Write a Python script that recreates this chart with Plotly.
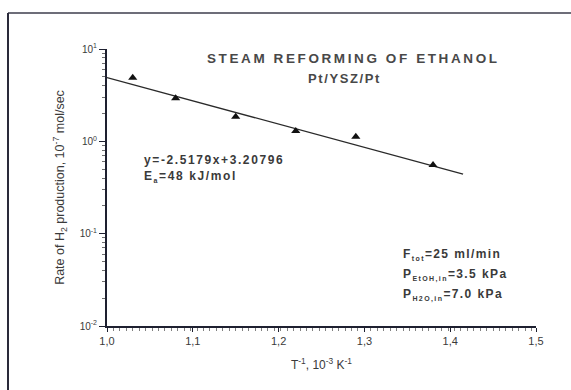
import plotly.graph_objects as go

# Measured H2 production rates vs inverse temperature
inv_T = [1.03, 1.08, 1.15, 1.22, 1.29, 1.38]          # 10^-3 K^-1
rate_h2 = [4.89, 2.92, 1.85, 1.29, 1.12, 0.553]        # 10^-7 mol/s

# Linear fit of log10(rate) against 1/T
fit_slope = -2.5179
fit_intercept = 3.20796
fit_x = [1.0, 1.415]
fit_y = [10 ** (fit_slope * x + fit_intercept) for x in fit_x]

y_tickvals = [0.01, 0.1, 1, 10]
y_ticktext = ["10<sup>-2</sup>", "10<sup>-1</sup>", "10<sup>0</sup>", "10<sup>1</sup>"]
y_minorvals = [m * 10.0 ** e for e in (-2, -1, 0) for m in range(2, 10)]

FONT = "Arial, Liberation Sans, sans-serif"
TXT = "#3a3a3a"
AXC = "#1e2030"

fig = go.Figure()
fig.add_trace(go.Scatter(
    x=fit_x, y=fit_y, mode="lines",
    line=dict(color="#2a2a2a", width=1.3), hoverinfo="skip", showlegend=False))
fig.add_trace(go.Scatter(
    x=inv_T, y=rate_h2, mode="markers",
    marker=dict(symbol="triangle-up", size=8, color="#111111"),
    showlegend=False))

fig.update_xaxes(
    range=[1.0, 1.5], showline=True, linecolor=AXC, linewidth=2,
    showgrid=False, zeroline=False,
    tickmode="linear", tick0=1.0, dtick=0.1, tickformat=".1f",
    ticks="outside", ticklen=4, tickcolor=AXC, tickwidth=1,
    minor=dict(ticks="outside", ticklen=3, tickcolor="#808080", tickwidth=1,
               tickmode="linear", tick0=1.0, dtick=0.0075),
    tickfont=dict(family=FONT, size=11, color=TXT),
    title=dict(text="T<sup>-1</sup>, 10<sup>-3</sup> K<sup>-1</sup>",
               font=dict(family=FONT, size=12, color=TXT), standoff=14),
)
fig.update_yaxes(
    type="log", range=[-2, 1], showline=True, linecolor=AXC, linewidth=2,
    showgrid=False, zeroline=False,
    tickvals=y_tickvals, ticktext=y_ticktext,
    ticks="outside", ticklen=6, tickcolor=AXC, tickwidth=1,
    minor=dict(ticks="outside", ticklen=3, tickcolor="#707070", tickwidth=1,
               tickmode="array", tickvals=y_minorvals),
    tickfont=dict(family=FONT, size=10, color=TXT),
    title=dict(text="Rate of H<sub>2</sub> production, 10<sup>-7</sup> mol/sec",
               font=dict(family=FONT, size=12.5, color=TXT), standoff=12),
)

def ann(text, x, y, size, xanchor="left", color=TXT):
    fig.add_annotation(text=text, x=x, y=y, xref="paper", yref="paper",
                       xanchor=xanchor, yanchor="middle", showarrow=False,
                       font=dict(family=FONT, size=size, color=color))

def px_x(px):
    return (px - 107) / 429.0

def px_y(py):
    return (326 - py) / 277.0

def small(s):
    return '<sub><span style="font-size:7px">' + s + '</span></sub>'

ann('<span style="letter-spacing:2.6px"><b>STEAM REFORMING OF ETHANOL</b></span>',
    px_x(353), px_y(59), 13.5, xanchor="center", color="#484848")
ann('<span style="letter-spacing:1.6px"><b>Pt/YSZ/Pt</b></span>',
    px_x(344), px_y(78), 13, xanchor="center", color="#484848")
ann('<span style="letter-spacing:1.6px"><b>y=-2.5179x+3.20796</b></span>',
    px_x(142), px_y(160), 12)
ann('<span style="letter-spacing:1.6px"><b>E' + small("a") + '=48 kJ/mol</b></span>',
    px_x(142), px_y(176), 12)
ann('<span style="letter-spacing:1.4px"><b>F' + small("tot") + '=25 ml/min</b></span>',
    px_x(401), px_y(254), 12)
ann('<span style="letter-spacing:1.4px"><b>P' + small("EtOH,in") + '=3.5 kPa</b></span>',
    px_x(401), px_y(275), 12)
ann('<span style="letter-spacing:1.4px"><b>P' + small("H2O,in") + '=7.0 kPa</b></span>',
    px_x(401), px_y(295), 12)

# Outer frame: top and left edges
fig.add_shape(type="line", xref="paper", yref="paper",
              x0=px_x(8), x1=px_x(571), y0=px_y(13), y1=px_y(13),
              line=dict(color="#3c3c4c", width=1.5))
fig.add_shape(type="line", xref="paper", yref="paper",
              x0=px_x(8), x1=px_x(8), y0=px_y(13), y1=px_y(392),
              line=dict(color="#2a2a3a", width=2))

fig.update_layout(
    width=571, height=390,
    margin=dict(l=107, r=35, t=49, b=64),
    paper_bgcolor="white", plot_bgcolor="white",
    separators=",.",
    font=dict(family=FONT, color=TXT),
)

fig.write_html("out.html")
